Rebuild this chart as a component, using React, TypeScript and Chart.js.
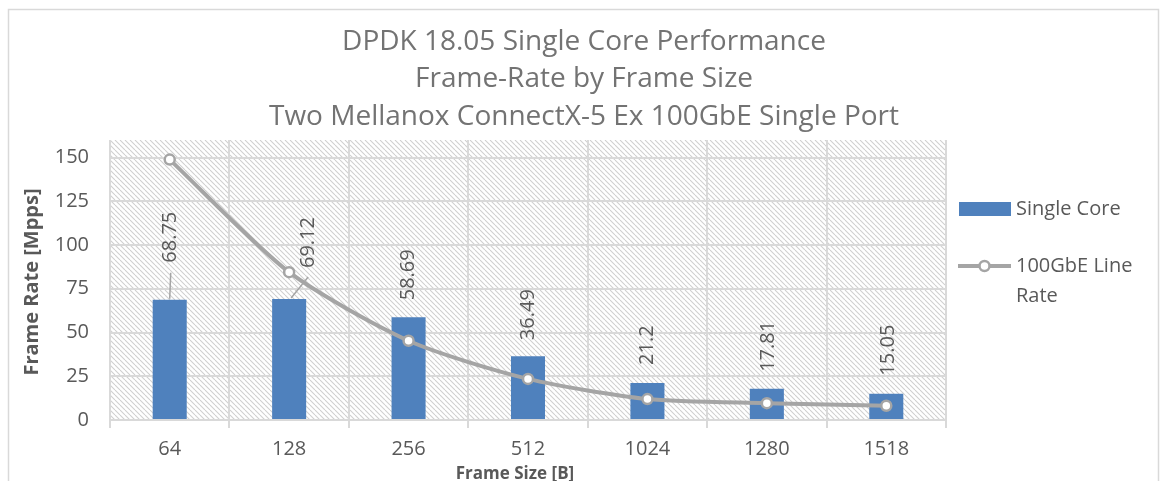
import React, { useEffect, useRef } from 'react';
import { Chart, registerables } from 'chart.js';

Chart.register(...registerables);

const frameSizes = ['64', '128', '256', '512', '1024', '1280', '1518'];
const singleCore = [68.75, 69.12, 58.69, 36.49, 21.2, 17.81, 15.05];
const lineRate = [148.81, 84.46, 45.29, 23.5, 11.97, 9.62, 8.13];
const yTickValues = [0, 25, 50, 75, 100, 125, 150];
const titleLines = [
  'DPDK 18.05 Single Core Performance',
  'Frame-Rate by Frame Size',
  'Two Mellanox ConnectX-5 Ex 100GbE Single Port',
];
const seriesNames = ['Single Core', '100GbE Line Rate'];
const xAxisTitle = 'Frame Size [B]';
const yAxisTitle = 'Frame Rate [Mpps]';

const FONT = '"Open Sans", "Noto Sans", sans-serif';
const BAR_COLOR = '#4f81bd';
const LINE_COLOR = '#a5a5a5';
const GRID_COLOR = '#d9d9d9';
const TEXT_COLOR = '#595959';
const TITLE_COLOR = '#737373';

// label placement styles (per bar): horizontal shift, gap above bar top, leader line
const labelPlacement = [
  { dx: 1, gap: 37, leader: true },
  { dx: 19, gap: 31, leader: true },
  { dx: 0, gap: 17, leader: false },
  { dx: 0, gap: 16, leader: false },
  { dx: 0, gap: 18, leader: false },
  { dx: 1, gap: 17, leader: false },
  { dx: 2, gap: 18, leader: false },
];

function makeHatch(): CanvasPattern | string {
  const s = 5;
  const c = document.createElement('canvas');
  c.width = s;
  c.height = s;
  const g = c.getContext('2d');
  if (!g) return '#ffffff';
  g.fillStyle = '#ffffff';
  g.fillRect(0, 0, s, s);
  g.strokeStyle = '#cfcfcf';
  g.lineWidth = 1.1;
  for (let k = -1; k <= 1; k++) {
    g.beginPath();
    g.moveTo(k * s, 0);
    g.lineTo(k * s + s, s);
    g.stroke();
  }
  const p = g.createPattern(c, 'repeat');
  return p || '#ffffff';
}

const decorPlugin = {
  id: 'decor',
  beforeDraw(chart: any) {
    const { ctx, chartArea } = chart;
    ctx.save();
    ctx.fillStyle = '#ffffff';
    ctx.fillRect(0, 0, chart.width, chart.height);
    // outer border
    ctx.strokeStyle = GRID_COLOR;
    ctx.lineWidth = 1.5;
    ctx.strokeRect(8.5, 9.5, 1150, 500);
    // hatched plot area
    ctx.fillStyle = makeHatch();
    ctx.fillRect(chartArea.left, chartArea.top, chartArea.right - chartArea.left, chartArea.bottom - chartArea.top);
    ctx.restore();
  },
  afterDatasetsDraw(chart: any) {
    const { ctx } = chart;
    const meta = chart.getDatasetMeta(1);
    ctx.save();
    ctx.font = `20px ${FONT}`;
    ctx.fillStyle = TEXT_COLOR;
    meta.data.forEach((el: any, i: number) => {
      const { x, y } = el.getProps(['x', 'y'], true);
      const pl = labelPlacement[i];
      const lx = x + pl.dx;
      const ly = y - pl.gap;
      if (pl.leader) {
        ctx.strokeStyle = LINE_COLOR;
        ctx.lineWidth = 1.5;
        ctx.beginPath();
        ctx.moveTo(x + (pl.dx > 5 ? 2 : 0), y - 1);
        ctx.lineTo(lx, ly + (pl.dx > 5 ? 9 : 10));
        ctx.stroke();
      }
      ctx.save();
      ctx.translate(lx, ly);
      ctx.rotate(-Math.PI / 2);
      ctx.textAlign = 'left';
      ctx.textBaseline = 'middle';
      ctx.fillText(String(singleCore[i]), 0, 0);
      ctx.restore();
    });
    ctx.restore();
  },
  afterDraw(chart: any) {
    const { ctx } = chart;
    ctx.save();
    // title
    ctx.font = `28px ${FONT}`;
    ctx.fillStyle = TITLE_COLOR;
    ctx.textAlign = 'center';
    ctx.textBaseline = 'middle';
    const ty = [42, 79, 117];
    titleLines.forEach((t, i) => ctx.fillText(t, 584, ty[i]));

    // axis titles
    ctx.font = `bold 17px ${FONT}`;
    ctx.fillStyle = TEXT_COLOR;
    ctx.fillText(xAxisTitle, 515, 474);
    ctx.font = `bold 20px ${FONT}`;
    ctx.save();
    ctx.translate(32, 282);
    ctx.rotate(-Math.PI / 2);
    ctx.fillText(yAxisTitle, 0, 0);
    ctx.restore();

    // legend
    ctx.font = `20px ${FONT}`;
    ctx.textAlign = 'left';
    ctx.fillStyle = BAR_COLOR;
    ctx.fillRect(959, 202, 52, 14);
    ctx.fillStyle = TEXT_COLOR;
    ctx.fillText(seriesNames[0], 1016, 209);

    ctx.strokeStyle = LINE_COLOR;
    ctx.lineWidth = 4;
    ctx.beginPath();
    ctx.moveTo(958, 266);
    ctx.lineTo(1011, 266);
    ctx.stroke();
    ctx.beginPath();
    ctx.arc(984.5, 266, 5, 0, Math.PI * 2);
    ctx.fillStyle = '#ffffff';
    ctx.fill();
    ctx.lineWidth = 2.5;
    ctx.stroke();

    // wrap second legend label
    const words = seriesNames[1].split(' ');
    const lines: string[] = [];
    let cur = '';
    words.forEach((w) => {
      const test = cur ? cur + ' ' + w : w;
      if (ctx.measureText(test).width > 134 && cur) {
        lines.push(cur);
        cur = w;
      } else cur = test;
    });
    if (cur) lines.push(cur);
    ctx.fillStyle = TEXT_COLOR;
    lines.forEach((l, i) => ctx.fillText(l, 1016, 266 + i * 30));
    ctx.restore();
  },
};

export default function App() {
  const ref = useRef<HTMLCanvasElement | null>(null);
  useEffect(() => {
    if (!ref.current) return;
    const chart = new Chart(ref.current, {
      type: 'bar',
      data: {
        labels: frameSizes,
        datasets: [
          {
            type: 'line',
            label: seriesNames[1],
            data: lineRate,
            borderColor: LINE_COLOR,
            borderWidth: 4,
            pointRadius: 5,
            pointBorderWidth: 2.5,
            pointBackgroundColor: '#ffffff',
            pointBorderColor: LINE_COLOR,
            tension: 0.25,
            order: 0,
          } as any,
          {
            type: 'bar',
            label: seriesNames[0],
            data: singleCore,
            backgroundColor: BAR_COLOR,
            barPercentage: 0.285,
            categoryPercentage: 1,
            order: 1,
          },
        ],
      },
      options: {
        animation: false,
        responsive: false,
        layout: { padding: { top: 140, right: 214, left: 0, bottom: 0 } },
        plugins: {
          legend: { display: false },
          title: { display: false },
          tooltip: { enabled: false },
        },
        scales: {
          x: {
            offset: true,
            grid: { offset: true, color: GRID_COLOR, lineWidth: 2, tickLength: 8, drawOnChartArea: true },
            border: { color: GRID_COLOR, width: 2 },
            ticks: { font: { family: FONT, size: 20 }, color: TEXT_COLOR, padding: 9 },
            afterFit: (s: any) => {
              s.height = 61;
            },
          },
          y: {
            min: 0,
            max: 160,
            ticks: { stepSize: 25, font: { family: FONT, size: 20 }, color: TEXT_COLOR, padding: 21 },
            grid: { color: GRID_COLOR, lineWidth: 2, drawTicks: false },
            border: { display: false },
            afterBuildTicks: (s: any) => {
              s.ticks = yTickValues.map((v) => ({ value: v }));
            },
            afterFit: (s: any) => {
              s.width = 110;
            },
          },
        },
      },
      plugins: [decorPlugin],
    });
    return () => chart.destroy();
  }, []);
  return (
    <div style={{ position: 'fixed', left: 0, top: 0, width: 1160, height: 481, background: '#fff' }}>
      <canvas ref={ref} width={1160} height={481} style={{ display: 'block' }} />
    </div>
  );
}
